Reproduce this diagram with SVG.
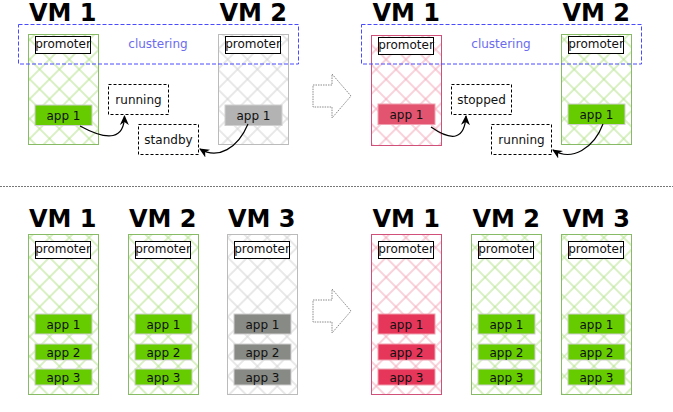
<svg xmlns="http://www.w3.org/2000/svg" width="673" height="412" viewBox="0 0 673 412">
<style>
text{font-family:"DejaVu Sans","Liberation Sans",sans-serif;}
.title{font-size:24px;font-weight:bold;fill:#000;}
.lbl{font-size:12px;fill:#111;text-anchor:middle;}
.clu{font-size:12px;fill:#6b6bee;text-anchor:middle;}
.vmg{fill:url(#hg);stroke:#88bb66;stroke-width:1;}
.vmr{fill:url(#hr);stroke:#d0507a;stroke-width:1;}
.vmx{fill:url(#hx);stroke:#bbbbbb;stroke-width:1;}
.prom{fill:#fff;stroke:#000;stroke-width:1;}
.ag{fill:#66cc00;stroke:#cfcfcf;stroke-width:1;}
.ar{fill:#e6365a;stroke:#f0a0b0;stroke-width:1;}
.ar2{fill:#e2546f;stroke:#f0a0b0;stroke-width:1;}
.ax{fill:#b3b3b3;stroke:#d0d0d0;stroke-width:1;}
.ax2{fill:#888a85;stroke:#cfcfcf;stroke-width:1;}
.st{fill:#fff;stroke:#000;stroke-width:1;stroke-dasharray:3 2;}
.clb{fill:none;stroke:#4a4aff;stroke-width:1;stroke-dasharray:4 2;}
.con{fill:none;stroke:#000;stroke-width:1.2;marker-end:url(#ah);}
.big{fill:#fff;stroke:#8a8a8a;stroke-width:1;stroke-dasharray:1.5 1;}
</style>
<defs>
<pattern id="hg" patternUnits="userSpaceOnUse" width="14" height="14" patternTransform="rotate(45)">
<path d="M0,7H14M7,0V14" stroke="#b2e28a" stroke-width="1"/>
</pattern>
<pattern id="hr" patternUnits="userSpaceOnUse" width="14" height="14" patternTransform="rotate(45)">
<path d="M0,7H14M7,0V14" stroke="#f3a6b8" stroke-width="1"/>
</pattern>
<pattern id="hx" patternUnits="userSpaceOnUse" width="14" height="14" patternTransform="rotate(45)">
<path d="M0,7H14M7,0V14" stroke="#d2d2d2" stroke-width="1"/>
</pattern>
<marker id="ah" markerWidth="10" markerHeight="10" viewBox="0 0 10 10" refX="9" refY="5" orient="auto" markerUnits="userSpaceOnUse">
<path d="M0,0.5L10,5L0,9.5L3,5z" fill="#000"/>
</marker>
</defs>
<rect width="673" height="412" fill="#fff"/>

<!-- top left scenario -->
<g id="tl-vm1">
<text class="title" x="29" y="20.5">VM 1</text>
<rect class="vmg" x="28.5" y="34.5" width="70" height="110"/>
<g id="tl-vm1-promoter"><rect class="prom" x="35.5" y="36.5" width="55" height="17"/><text class="lbl" x="63" y="48">promoter</text></g>
<g id="tl-vm1-app1"><rect class="ag" x="35" y="105" width="57" height="20.5"/><text class="lbl" x="63.5" y="120">app 1</text></g>
</g>
<g id="tl-vm2">
<text class="title" x="219.5" y="20.5">VM 2</text>
<rect class="vmx" x="218.5" y="34.5" width="70" height="110"/>
<g id="tl-vm2-promoter"><rect class="prom" x="225.5" y="36.5" width="55" height="17"/><text class="lbl" x="253" y="48">promoter</text></g>
<g id="tl-vm2-app1"><rect class="ax" x="225" y="105" width="57" height="20.5"/><text class="lbl" x="253.5" y="120">app 1</text></g>
</g>
<g id="tl-clustering">
<rect class="clb" x="18.5" y="24.5" width="280" height="39.5"/>
<text class="clu" x="158" y="48">clustering</text>
</g>
<g id="tl-running"><rect class="st" x="108.5" y="84.5" width="60" height="30"/><text class="lbl" x="138.5" y="103.5">running</text></g>
<g id="tl-standby"><rect class="st" x="138.5" y="124.5" width="60" height="30"/><text class="lbl" x="168.5" y="143.5">standby</text></g>
<g id="arrow-top"><polygon class="big" points="313,85 332,85 332,74 351,96 332,118 332,107 313,107"/></g>

<!-- top right scenario -->
<g id="tr-vm1">
<text class="title" x="372.5" y="20.5">VM 1</text>
<rect class="vmr" x="371.5" y="35.5" width="70" height="110"/>
<g id="tr-vm1-promoter"><rect class="prom" x="378.5" y="37.5" width="55" height="17"/><text class="lbl" x="406" y="49">promoter</text></g>
<g id="tr-vm1-app1"><rect class="ar2" x="378" y="104" width="57" height="20.5"/><text class="lbl" x="406.5" y="119">app 1</text></g>
</g>
<g id="tr-vm2">
<text class="title" x="562.5" y="20.5">VM 2</text>
<rect class="vmg" x="561.5" y="34.5" width="70" height="110"/>
<g id="tr-vm2-promoter"><rect class="prom" x="568.5" y="36.5" width="55" height="17"/><text class="lbl" x="596" y="48">promoter</text></g>
<g id="tr-vm2-app1"><rect class="ag" x="568" y="104" width="57" height="20.5"/><text class="lbl" x="596.5" y="119">app 1</text></g>
</g>
<g id="tr-clustering">
<rect class="clb" x="361.5" y="24.5" width="280" height="39.5"/>
<text class="clu" x="501" y="48">clustering</text>
</g>
<g id="tr-stopped"><rect class="st" x="451.5" y="84.5" width="60" height="30"/><text class="lbl" x="481.5" y="103.5">stopped</text></g>
<g id="tr-running"><rect class="st" x="491.5" y="124.5" width="60" height="30"/><text class="lbl" x="521.5" y="143.5">running</text></g>

<g id="connectors">
<path class="con" d="M80,126 Q124,150 124.5,116"/>
<path class="con" d="M248,124 C238,148 218,160 200,149"/>
<path class="con" d="M431,127 Q464,150 466,116"/>
<path class="con" d="M603,124 C594,148 572,162 553,150"/>
</g>

<line x1="0" y1="186.5" x2="673" y2="186.5" stroke="#777" stroke-width="1" stroke-dasharray="2 1"/>

<!-- bottom left scenario -->
<g id="bl-vm1">
<text class="title" x="29" y="226.5">VM 1</text>
<rect class="vmg" x="28.5" y="234.5" width="70" height="160"/>
<g id="bl-vm1-promoter"><rect class="prom" x="35.5" y="241.5" width="55" height="17"/><text class="lbl" x="63" y="253">promoter</text></g>
<g id="bl-vm1-app1"><rect class="ag" x="35" y="314" width="57" height="20"/><text class="lbl" x="63.5" y="328.5">app 1</text></g>
<g id="bl-vm1-app2"><rect class="ag" x="35" y="344" width="57" height="16"/><text class="lbl" x="63.5" y="356.5">app 2</text></g>
<g id="bl-vm1-app3"><rect class="ag" x="35" y="369" width="57" height="16"/><text class="lbl" x="63.5" y="381.5">app 3</text></g>
</g>
<g id="bl-vm2">
<text class="title" x="129" y="226.5">VM 2</text>
<rect class="vmg" x="128.5" y="234.5" width="70" height="160"/>
<g id="bl-vm2-promoter"><rect class="prom" x="135.5" y="241.5" width="55" height="17"/><text class="lbl" x="163" y="253">promoter</text></g>
<g id="bl-vm2-app1"><rect class="ag" x="135" y="314" width="57" height="20"/><text class="lbl" x="163.5" y="328.5">app 1</text></g>
<g id="bl-vm2-app2"><rect class="ag" x="135" y="344" width="57" height="16"/><text class="lbl" x="163.5" y="356.5">app 2</text></g>
<g id="bl-vm2-app3"><rect class="ag" x="135" y="369" width="57" height="16"/><text class="lbl" x="163.5" y="381.5">app 3</text></g>
</g>
<g id="bl-vm3">
<text class="title" x="228" y="226.5">VM 3</text>
<rect class="vmx" x="227.5" y="234.5" width="70" height="160"/>
<g id="bl-vm3-promoter"><rect class="prom" x="234.5" y="241.5" width="55" height="17"/><text class="lbl" x="262" y="253">promoter</text></g>
<g id="bl-vm3-app1"><rect class="ax2" x="234" y="314" width="57" height="20"/><text class="lbl" x="262.5" y="328.5">app 1</text></g>
<g id="bl-vm3-app2"><rect class="ax2" x="234" y="344" width="57" height="16"/><text class="lbl" x="262.5" y="356.5">app 2</text></g>
<g id="bl-vm3-app3"><rect class="ax2" x="234" y="369" width="57" height="16"/><text class="lbl" x="262.5" y="381.5">app 3</text></g>
</g>
<g id="arrow-bottom"><polygon class="big" points="313,300 332,300 332,289 351,311 332,333 332,322 313,322"/></g>

<!-- bottom right scenario -->
<g id="br-vm1">
<text class="title" x="372.5" y="226.5">VM 1</text>
<rect class="vmr" x="371.5" y="234.5" width="70" height="160"/>
<g id="br-vm1-promoter"><rect class="prom" x="378.5" y="241.5" width="55" height="17"/><text class="lbl" x="406" y="253">promoter</text></g>
<g id="br-vm1-app1"><rect class="ar" x="378" y="314" width="57" height="20"/><text class="lbl" x="406.5" y="328.5">app 1</text></g>
<g id="br-vm1-app2"><rect class="ar" x="378" y="344" width="57" height="16"/><text class="lbl" x="406.5" y="356.5">app 2</text></g>
<g id="br-vm1-app3"><rect class="ar" x="378" y="369" width="57" height="16"/><text class="lbl" x="406.5" y="381.5">app 3</text></g>
</g>
<g id="br-vm2">
<text class="title" x="472.5" y="226.5">VM 2</text>
<rect class="vmg" x="471.5" y="234.5" width="70" height="160"/>
<g id="br-vm2-promoter"><rect class="prom" x="478.5" y="241.5" width="55" height="17"/><text class="lbl" x="506" y="253">promoter</text></g>
<g id="br-vm2-app1"><rect class="ag" x="478" y="314" width="57" height="20"/><text class="lbl" x="506.5" y="328.5">app 1</text></g>
<g id="br-vm2-app2"><rect class="ag" x="478" y="344" width="57" height="16"/><text class="lbl" x="506.5" y="356.5">app 2</text></g>
<g id="br-vm2-app3"><rect class="ag" x="478" y="369" width="57" height="16"/><text class="lbl" x="506.5" y="381.5">app 3</text></g>
</g>
<g id="br-vm3">
<text class="title" x="562.5" y="226.5">VM 3</text>
<rect class="vmg" x="561.5" y="234.5" width="70" height="160"/>
<g id="br-vm3-promoter"><rect class="prom" x="568.5" y="241.5" width="55" height="17"/><text class="lbl" x="596" y="253">promoter</text></g>
<g id="br-vm3-app1"><rect class="ag" x="568" y="314" width="57" height="20"/><text class="lbl" x="596.5" y="328.5">app 1</text></g>
<g id="br-vm3-app2"><rect class="ag" x="568" y="344" width="57" height="16"/><text class="lbl" x="596.5" y="356.5">app 2</text></g>
<g id="br-vm3-app3"><rect class="ag" x="568" y="369" width="57" height="16"/><text class="lbl" x="596.5" y="381.5">app 3</text></g>
</g>
</svg>
